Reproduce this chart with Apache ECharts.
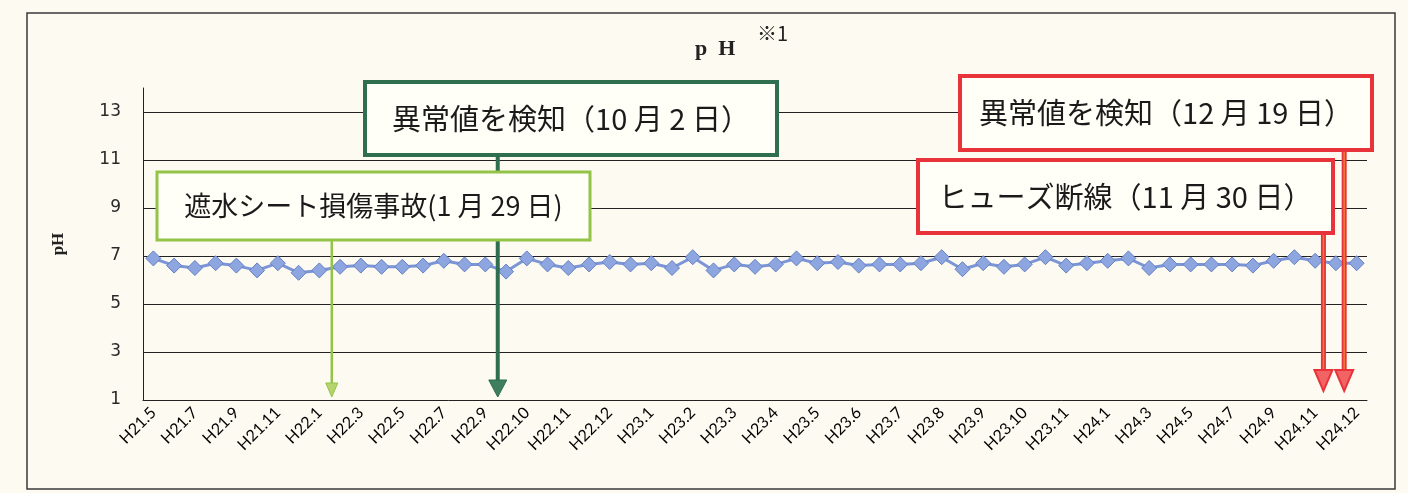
<!DOCTYPE html>
<html><head><meta charset="utf-8">
<script src="https://cdn.jsdelivr.net/npm/echarts@6/dist/echarts.min.js"></script>
<style>html,body{margin:0;padding:0;background:#fcfaf1;}#c{width:1408px;height:493px;}</style>
</head><body><div id="c"></div>
<script>
// ---- data ----
const categories = [
  'H21.5','H21.6','H21.7','H21.8','H21.9','H21.10','H21.11','H21.12',
  'H22.1','H22.2','H22.3','H22.4','H22.5','H22.6','H22.7','H22.8',
  'H22.9','H22.9','H22.10','H22.10','H22.11','H22.11','H22.12','H22.12',
  'H23.1','H23.1','H23.2','H23.2','H23.3','H23.3','H23.4','H23.4',
  'H23.5','H23.5','H23.6','H23.6','H23.7','H23.7','H23.8','H23.8',
  'H23.9','H23.9','H23.10','H23.10','H23.11','H23.12','H24.1','H24.2',
  'H24.3','H24.4','H24.5','H24.6','H24.7','H24.8','H24.9','H24.10',
  'H24.11','H24.12','H24.12'
];
const phValues = [
  6.9, 6.6, 6.5, 6.7, 6.6, 6.4, 6.7, 6.3, 6.4, 6.55,
  6.6, 6.55, 6.55, 6.6, 6.8, 6.65, 6.65, 6.35, 6.9, 6.65,
  6.5, 6.65, 6.75, 6.65, 6.7, 6.5, 6.95, 6.4, 6.65, 6.55,
  6.65, 6.9, 6.7, 6.75, 6.6, 6.65, 6.65, 6.7, 6.95, 6.45,
  6.7, 6.55, 6.65, 6.95, 6.6, 6.7, 6.8, 6.9, 6.5, 6.65,
  6.65, 6.65, 6.65, 6.6, 6.8, 6.95, 6.8, 6.7, 6.7
];
const yTickValues = [1, 3, 5, 7, 9, 11, 13];
const gridValues = [3, 5, 7, 9, 11, 13];
const eventTexts = ['遮水シート損傷事故(1 月 29 日)', '異常値を検知（10 月 2 日）', 'ヒューズ断線（11 月 30 日）', '異常値を検知（12 月 19 日）'];
const eventPositions = [8.6, 16.6, 56.4, 57.4]; // fractional category index of each event date

// ---- layout / style (not data) ----
const boxes = [
  {x:157, y:172, w:433, h:68, color:'#93c447', lw:3, fs:27, arrow:'light', z:12},
  {x:365, y:82,  w:412, h:73, color:'#2f6e4e', lw:4, fs:29, arrow:'dark', z:12},
  {x:918, y:160, w:415, h:73, color:'#e8333b', lw:4, fs:29, arrow:'red', z:12},
  {x:960, y:76,  w:412, h:74, color:'#e8333b', lw:4, fs:29, arrow:'red', z:12}
];

const chart = echarts.init(document.getElementById('c'));
chart.setOption({
  backgroundColor: '#fcfaf1',
  animation: false,
  title: [
    {text: 'p  H', left: 690, top: 33, textStyle: {fontFamily: 'Liberation Serif', fontWeight: 'bold', fontSize: 22, color: '#222'}},
    {text: '※1', left: 752, top: 18, textStyle: {fontFamily: 'Noto Sans CJK JP', fontWeight: 'normal', fontSize: 20, color: '#222'}}
  ],
  grid: {left: 143, right: 41, top: 88, bottom: 93, containLabel: false},
  xAxis: {
    type: 'category', data: categories, boundaryGap: true,
    axisLine: {show: true, lineStyle: {color: '#222', width: 1}},
    axisTick: {show: false},
    axisLabel: {interval: 1, rotate: 45, fontFamily: 'Lato', fontSize: 16, color: '#000', margin: 10},
    splitLine: {show: false}
  },
  yAxis: {
    type: 'value', min: 1, max: 14,
    name: 'pH', nameLocation: 'middle', nameRotate: 90, nameGap: 76,
    nameTextStyle: {fontFamily: 'Liberation Serif', fontWeight: 'bold', fontSize: 17, color: '#222'},
    axisLine: {show: true, lineStyle: {color: '#222', width: 1}},
    axisTick: {show: false, customValues: yTickValues},
    axisLabel: {customValues: yTickValues, fontFamily: 'DejaVu Sans', fontSize: 17, color: '#2a2a2a', margin: 22},
    splitLine: {show: false}
  },
  series: [{
    type: 'line', data: phValues,
    symbol: 'diamond', symbolSize: 15, showAllSymbol: true,
    lineStyle: {color: '#7b95d6', width: 3},
    itemStyle: {color: '#8ea6e0', borderColor: '#6580c4', borderWidth: 1},
    z: 3,
    markLine: {
      silent: true, symbol: 'none', label: {show: false},
      lineStyle: {color: '#222', width: 1, type: 'solid'},
      data: gridValues.map(v => ({yAxis: v})),
      z: 1
    }
  }]
});

function catPx(pos) {
  const i = Math.floor(pos), f = pos - i;
  const a = chart.convertToPixel({xAxisIndex: 0}, i);
  const b = chart.convertToPixel({xAxisIndex: 0}, i + 1);
  return a + (b - a) * f;
}
const yBase = chart.convertToPixel({yAxisIndex: 0}, 1);

const g = [];
g.push({type: 'rect', shape: {x: 27, y: 13, width: 1368, height: 476}, style: {fill: 'none', stroke: '#3a3a3a', lineWidth: 1.5}, z: 0, silent: true});
boxes.forEach((b, k) => {
  const ax = catPx(eventPositions[k]);
  const y0 = b.y + b.h;
  if (b.arrow === 'light') {
    g.push({type: 'line', shape: {x1: ax, y1: y0, x2: ax, y2: yBase - 15}, style: {stroke: '#93c447', lineWidth: 2.5}, z: 10});
    g.push({type: 'polygon', shape: {points: [[ax - 6, yBase - 17], [ax + 6, yBase - 17], [ax, yBase - 3]]}, style: {fill: '#b5d46e', stroke: '#93c447', lineWidth: 1}, z: 10});
  } else if (b.arrow === 'dark') {
    g.push({type: 'line', shape: {x1: ax, y1: y0, x2: ax, y2: yBase - 18}, style: {stroke: '#2f6e4e', lineWidth: 4}, z: 10});
    g.push({type: 'polygon', shape: {points: [[ax - 9, yBase - 20], [ax + 9, yBase - 20], [ax, yBase - 3]]}, style: {fill: '#3d7f5e', stroke: '#2f6e4e', lineWidth: 1}, z: 10});
  } else {
    g.push({type: 'line', shape: {x1: ax, y1: y0, x2: ax, y2: yBase - 28}, style: {stroke: '#e8333b', lineWidth: 5}, z: 10});
    g.push({type: 'line', shape: {x1: ax, y1: y0 + 2, x2: ax, y2: yBase - 28}, style: {stroke: '#f07a3a', lineWidth: 1.5}, z: 10});
    g.push({type: 'polygon', shape: {points: [[ax - 9, yBase - 30], [ax + 9, yBase - 30], [ax, yBase - 9]]}, style: {fill: '#f26464', stroke: '#e8333b', lineWidth: 2}, z: 10});
  }
  g.push({type: 'rect', shape: {x: b.x, y: b.y, width: b.w, height: b.h}, style: {fill: '#fffef7', stroke: b.color, lineWidth: b.lw}, z: b.z + k});
  g.push({type: 'text', x: b.x + b.w / 2, y: b.y + b.h / 2, style: {text: eventTexts[k], fill: '#1a1a1a', font: b.fs + 'px "Noto Sans CJK JP"', align: 'center', verticalAlign: 'middle'}, z: b.z + k + 1});
});
chart.setOption({graphic: {elements: g}});
</script>
</body></html>
